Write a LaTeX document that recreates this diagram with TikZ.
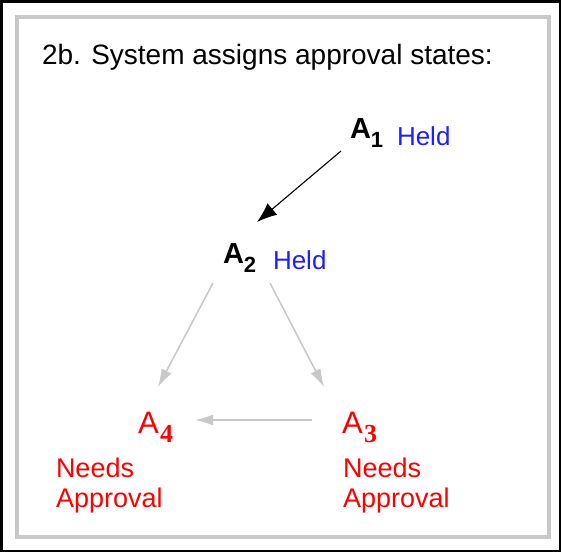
\documentclass[tikz,border=0pt]{standalone}
\usepackage{fontspec}
\setmainfont{Liberation Sans}
\newfontfamily\serifdigits{Liberation Serif}
\usetikzlibrary{arrows.meta,calc}
\definecolor{framegray}{RGB}{200,200,200}
\definecolor{linegray}{RGB}{200,200,200}
\definecolor{heldblue}{RGB}{30,30,255}
\definecolor{needred}{RGB}{255,0,0}
\tikzset{
  txt/.style={inner sep=0pt, outer sep=0pt, anchor=base west},
  blackA/.style={txt, font=\fontsize{29}{34}\selectfont\bfseries},
  redA/.style={txt, text=needred, font=\fontsize{31}{36}\selectfont},
  heldtxt/.style={txt, text=heldblue, font=\fontsize{26}{30}\selectfont},
  needtxt/.style={txt, text=needred, align=left, font=\fontsize{27}{30}\selectfont},
  blackarrow/.style={draw=black, line width=1.1pt, -{Latex[length=20pt,width=15pt]}},
  grayarrow/.style={draw=linegray, line width=1.5pt, -{Latex[length=18pt,width=11pt]}}
}
\newcommand{\bsub}[1]{\raisebox{-9pt}{\fontsize{22}{26}\selectfont\bfseries #1}}
\newcommand{\rsub}[1]{\kern1.5pt\raisebox{-9pt}{\fontsize{26}{30}\selectfont\serifdigits\bfseries #1}}
\begin{document}
\begin{tikzpicture}[x=1pt,y=-1pt]
\useasboundingbox (0,0) rectangle (561,552);
\fill[white] (0,0) rectangle (561,552);
% frames
\draw[black, line width=2.5pt] (1.25,1.25) rectangle (559.75,550.75);
\draw[framegray, line width=4pt] (17,17) rectangle (549,537);
% title
\node[txt, font=\fontsize{28}{34}\selectfont] (title) at (42,64) {2b. System assigns approval states:};
% nodes
\node[blackA] (a1) at (350,138) {A\bsub{1}};
\node[heldtxt] (held1) at (397,145) {Held};
\node[blackA] (a2) at (223,263) {A\bsub{2}};
\node[heldtxt] (held2) at (273,269) {Held};
\node[redA] (a4) at (138,433) {A\rsub{4}};
\node[redA] (a3) at (342,433) {A\rsub{3}};
\node[needtxt] (need4) at (56,507) {Needs\\Approval};
\node[needtxt] (need3) at (343,507) {Needs\\Approval};
% connectors
\draw[blackarrow] ($(a1.base west)+(-9,13)$) -- ($(a2.base west)+(34,-41)$);
\draw[grayarrow] ($(a2.base west)+(-10,20)$) -- ($(a4.base west)+(20,-46)$);
\draw[grayarrow] ($(a2.base west)+(47,20)$) -- ($(a3.base west)+(-18,-46)$);
\draw[grayarrow] ($(a3.base west)+(-30,-13)$) -- ($(a4.base west)+(57,-13)$);
\end{tikzpicture}
\end{document}
